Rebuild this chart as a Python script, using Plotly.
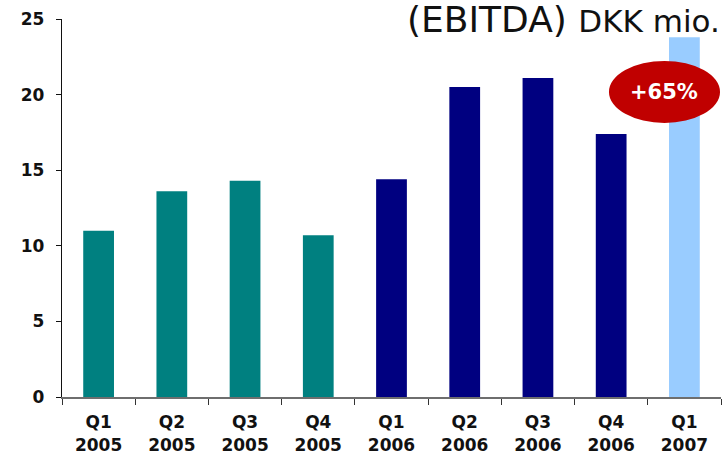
import plotly.graph_objects as go

# Quarterly EBITDA, DKK million
quarters = ["Q1", "Q2", "Q3", "Q4", "Q1", "Q2", "Q3", "Q4", "Q1"]
years = ["2005", "2005", "2005", "2005", "2006", "2006", "2006", "2006", "2007"]
ebitda = [11.0, 13.6, 14.3, 10.7, 14.4, 20.5, 21.1, 17.4, 23.8]

# One colour per year
year_colors = {"2005": "#008080", "2006": "#000080", "2007": "#99CCFF"}

growth_label = "+65%"
y_ticks = [0, 5, 10, 15, 20, 25]

labels = [f"{q}<br>{y}" for q, y in zip(quarters, years)]
colors = [year_colors[y] for y in years]

fig = go.Figure(
    go.Bar(
        x=labels,
        y=ebitda,
        marker=dict(color=colors, line=dict(width=0)),
        width=0.42,
        hoverinfo="x+y",
    )
)

tick_font = dict(family="DejaVu Sans", size=17, color="#111111", weight="bold")

fig.update_layout(
    width=722,
    height=454,
    margin=dict(l=62, r=1, t=19, b=57),
    paper_bgcolor="white",
    plot_bgcolor="white",
    showlegend=False,
    xaxis=dict(
        type="category",
        showline=True,
        linecolor="#6e6e6e",
        linewidth=2,
        ticks="outside",
        tickson="boundaries",
        ticklen=6,
        tickwidth=1.3,
        tickcolor="#333333",
        tickfont=tick_font,
        ticklabelstandoff=9,
        automargin=False,
        showgrid=False,
        zeroline=False,
        fixedrange=True,
    ),
    yaxis=dict(
        range=[0, 25],
        tickvals=y_ticks,
        showline=True,
        linecolor="#111111",
        linewidth=1.3,
        ticks="outside",
        ticklen=5,
        tickwidth=1.3,
        tickcolor="#111111",
        tickfont=tick_font,
        ticklabelstandoff=8,
        automargin=False,
        showgrid=False,
        zeroline=False,
        fixedrange=True,
    ),
)

# Growth callout: red ellipse next to the latest quarter
fig.add_shape(
    type="circle",
    xref="paper",
    yref="paper",
    x0=0.830,
    x1=0.9985,
    y0=0.725,
    y1=0.889,
    fillcolor="#C00000",
    line=dict(width=0),
    layer="above",
)
fig.add_annotation(
    xref="paper",
    yref="paper",
    x=0.914,
    y=0.807,
    text=growth_label,
    showarrow=False,
    font=dict(family="DejaVu Sans", size=21, color="white", weight="bold"),
    xanchor="center",
    yanchor="middle",
)

# Chart title in the top-right corner
fig.add_annotation(
    xref="paper",
    yref="paper",
    x=1.0015,
    y=1.057,
    text='(EBITDA) <span style="font-size:31px">DKK mio.</span>',
    showarrow=False,
    font=dict(family="DejaVu Sans", size=36, color="#111111"),
    xanchor="right",
    yanchor="top",
)

fig.write_html("out.html")
